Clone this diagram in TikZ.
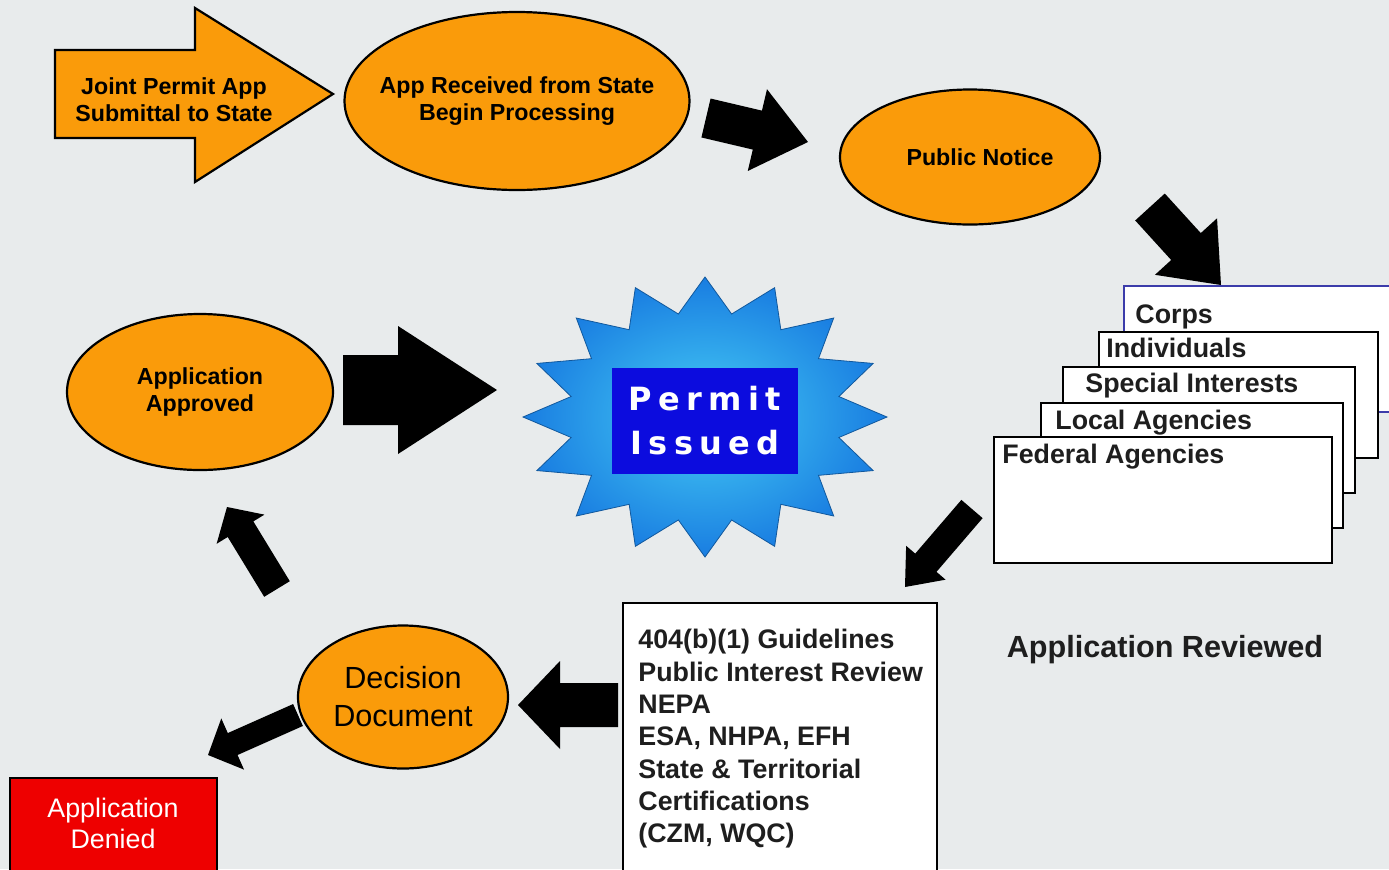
\documentclass[tikz,border=0pt]{standalone}
\usepackage{fontspec}
\setmainfont{Liberation Sans}
\newfontfamily\permitfont{DejaVu Sans}[LetterSpace=20]
\usetikzlibrary{shapes.geometric,calc}
\definecolor{bg}{RGB}{232,235,236}
\definecolor{orangeF}{RGB}{250,155,10}
\definecolor{permitblue}{RGB}{12,12,222}
\definecolor{starin}{RGB}{70,205,245}
\definecolor{starout}{RGB}{25,125,225}
\definecolor{deniedred}{RGB}{238,0,0}
\definecolor{corpsblue}{RGB}{60,60,170}
\definecolor{darktext}{RGB}{30,30,30}
\newcommand\fatarrow[5]{%
  \coordinate (fanck) at ($(#2)!#5!(#1)$);
  \fill[black] ($(#1)!#3!90:(#2)$) -- ($(fanck)!#3!90:(#2)$) -- ($(fanck)!#4!90:(#2)$) -- (#2)
    -- ($(fanck)!#4!-90:(#2)$) -- ($(fanck)!#3!-90:(#2)$) -- ($(#1)!#3!-90:(#2)$) -- cycle;}
\begin{document}
\begin{tikzpicture}[x=0.5pt,y=-0.5pt,
  oval/.style={ellipse, draw=black, line width=1.1pt, fill=orangeF, inner sep=0pt, align=center,
    font=\bfseries\fontsize{11.6}{13.5}\selectfont},
  card/.style={draw=black, line width=1.3pt, fill=white},
  cardtext/.style={inner sep=0pt, anchor=base west, font=\bfseries\fontsize{13.4}{16}\selectfont, text=darktext},
  permitbox/.style={fill=permitblue, inner sep=0pt, minimum width=93pt, minimum height=53pt, align=center,
    text=white, font=\permitfont\bfseries\fontsize{16}{22}\selectfont}]
\fill[bg] (0,0) rectangle (1389,869);
\useasboundingbox (0,0) rectangle (1389,869);
\clip (0,0) rectangle (1389,869);

% Joint permit block arrow
\filldraw[fill=orangeF, draw=black, line width=1.1pt, line join=miter]
  (55,50) -- (195,50) -- (195,8) -- (333,94) -- (195,182) -- (195,138) -- (55,138) -- cycle;
\node[inner sep=0pt, align=center, font=\bfseries\fontsize{11.6}{13.5}\selectfont] (joint) at (174,100)
  {Joint Permit App\\Submittal to State};

% ellipses
\node[oval, inner xsep=-10pt, minimum width=172.5pt, minimum height=89pt] (recv) at (517,101) {App Received from State\\Begin Processing};
\node[oval, minimum width=130pt, minimum height=67.5pt] (notice) at (970,157) {\hspace*{10pt}Public Notice};
\node[oval, minimum width=133pt, minimum height=78pt] (approved) at (200,392) {Application\\Approved};
\node[oval, minimum width=105pt, minimum height=71.5pt, font=\fontsize{15.3}{19}\selectfont] (decision) at (403,697) {Decision\\Document};

% stacked review cards
\draw[draw=corpsblue, line width=1pt, fill=white] (1124,286) rectangle (1400,412);
\node[cardtext] (corps) at (1135,323) {Corps};
\draw[card] (1099,332) rectangle (1378,458);
\node[cardtext] (indiv) at (1106,357) {Individuals};
\draw[card] (1063,367) rectangle (1355,493);
\node[cardtext] (special) at (1085,392) {Special Interests};
\draw[card] (1041,403) rectangle (1343,528);
\node[cardtext] (local) at (1055,429) {Local Agencies};
\draw[card] (994,437) rectangle (1332,563);
\node[cardtext] (federal) at (1002,463) {Federal Agencies};

\node[inner sep=0pt, font=\bfseries\fontsize{15.3}{18}\selectfont, text=darktext] (reviewed) at (1165,650) {Application Reviewed};

% criteria box
\draw[card] (623,603) rectangle (937,890);
\node[inner sep=0pt, anchor=north west, align=left, font=\bfseries\fontsize{13.4}{16.15}\selectfont, text=darktext] (criteria) at (638,629)
  {404(b)(1) Guidelines\\Public Interest Review\\NEPA\\ESA, NHPA, EFH\\State \& Territorial\\Certifications\\(CZM, WQC)};

% denied
\filldraw[draw=black, line width=1pt, fill=deniedred] (10,778) rectangle (217,885);
\node[inner sep=0pt, align=center, text=white, font=\fontsize{13.4}{15.5}\selectfont] (denied) at (113,823) {Application\\Denied};

% starburst
\coordinate (burst) at (705,417);
\shade[inner color=starin, outer color=starout, draw=starout!70!black, line width=0.4pt]
  plot[samples at={0,...,31}, variable=\i]
  ({705+182*(mod(\i,2)==0 ? 1 : 0.75)*cos(90+11.25*\i)}, {417-140*(mod(\i,2)==0 ? 1 : 0.75)*sin(90+11.25*\i)}) -- cycle;
\node[permitbox] (permit) at (705,421) {Permit\\Issued};

% fat arrows
\coordinate (a1s) at (706,118); \coordinate (a1e) at (808,142);
\fatarrow{a1s}{a1e}{10pt}{21pt}{26pt}
\coordinate (a2s) at (1150,207); \coordinate (a2e) at (1221,285);
\fatarrow{a2s}{a2e}{10pt}{21pt}{26pt}
\coordinate (a3s) at (343,390); \coordinate (a3e) at (497,390);
\fatarrow{a3s}{a3e}{17.5pt}{32pt}{49.5pt}
\coordinate (a4s) at (277,589); \coordinate (a4e) at (227,507);
\fatarrow{a4s}{a4e}{7.5pt}{14pt}{13pt}
\coordinate (a5s) at (618,705); \coordinate (a5e) at (518,705);
\fatarrow{a5s}{a5e}{11pt}{22pt}{21pt}
\coordinate (a6s) at (298,715); \coordinate (a6e) at (208,755);
\fatarrow{a6s}{a6e}{6pt}{14pt}{13.5pt}
\coordinate (a7s) at (972,509); \coordinate (a7e) at (905,587);
\fatarrow{a7s}{a7e}{7pt}{13pt}{16pt}
\end{tikzpicture}
\end{document}
